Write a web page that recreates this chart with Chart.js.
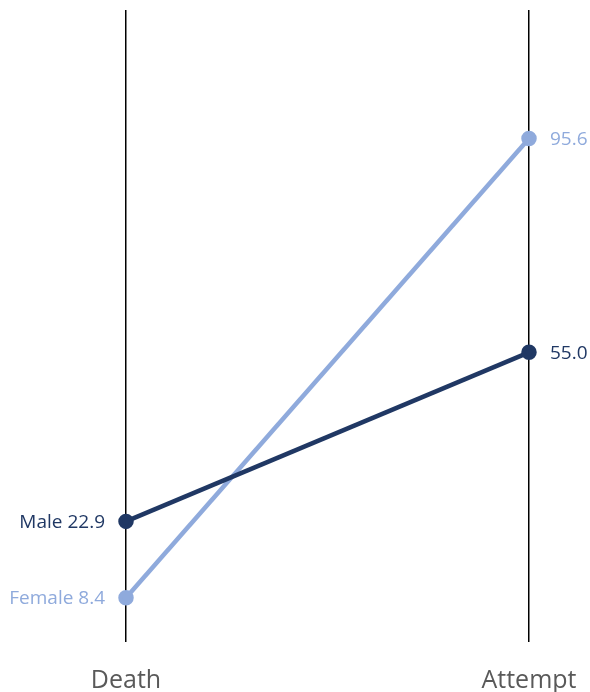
<!DOCTYPE html>
<html><head><meta charset="utf-8">
<script src="https://cdn.jsdelivr.net/npm/chart.js@4/dist/chart.umd.min.js"></script>
<style>html,body{margin:0;padding:0;background:#fff}#wrap{width:590px;height:692px}</style>
</head><body><div id="wrap"><canvas id="c"></canvas></div>
<script>
const categories = ["Death", "Attempt"];
const seriesNames = ["Male", "Female"];
const maleValues = [22.9, 55.0];
const femaleValues = [8.4, 95.6];
const colors = ["#203864", "#8FAADC"];

const labelPlugin = {
  id: 'slopeLabels',
  afterDatasetsDraw(chart) {
    const ctx = chart.ctx;
    ctx.save();
    ctx.font = '19px "Open Sans", sans-serif';
    ctx.textBaseline = 'middle';
    chart.data.datasets.forEach((ds, i) => {
      const meta = chart.getDatasetMeta(i);
      const p0 = meta.data[0], p1 = meta.data[1];
      ctx.fillStyle = ds.borderColor;
      ctx.textAlign = 'right';
      ctx.fillText(seriesNames[i] + ' ' + ds.data[0].toFixed(1), p0.x - 21, p0.y + 1);
      ctx.textAlign = 'left';
      ctx.fillText(ds.data[1].toFixed(1), p1.x + 21, p1.y + 1);
    });
    // category labels under the axis lines
    const xs = chart.scales.x;
    ctx.font = '25px "Open Sans", sans-serif';
    ctx.fillStyle = '#595959';
    ctx.textAlign = 'center';
    categories.forEach((c, i) => {
      ctx.fillText(c, xs.getPixelForValue(i), chart.chartArea.bottom + 39);
    });
    ctx.restore();
  }
};

new Chart(document.getElementById('c'), {
  type: 'line',
  data: {
    labels: categories,
    datasets: [
      { label: seriesNames[0], data: maleValues, borderColor: colors[0], backgroundColor: colors[0], borderWidth: 4.5, pointRadius: 5.5, pointHoverRadius: 5.5, tension: 0 },
      { label: seriesNames[1], data: femaleValues, borderColor: colors[1], backgroundColor: colors[1], borderWidth: 4.5, pointRadius: 5.5, pointHoverRadius: 5.5, tension: 0 }
    ]
  },
  options: {
    responsive: true,
    maintainAspectRatio: false,
    animation: false,
    layout: { padding: { left: 126, right: 61, top: 10, bottom: 50 } },
    plugins: { legend: { display: false }, tooltip: { enabled: false } },
    scales: {
      x: {
        offset: false,
        grid: { color: '#000', lineWidth: 1.5, drawTicks: false, drawOnChartArea: true },
        border: { display: false },
        ticks: { display: false }
      },
      y: { display: false, min: 0, max: 120 }
    }
  },
  plugins: [labelPlugin]
});
</script></body></html>
